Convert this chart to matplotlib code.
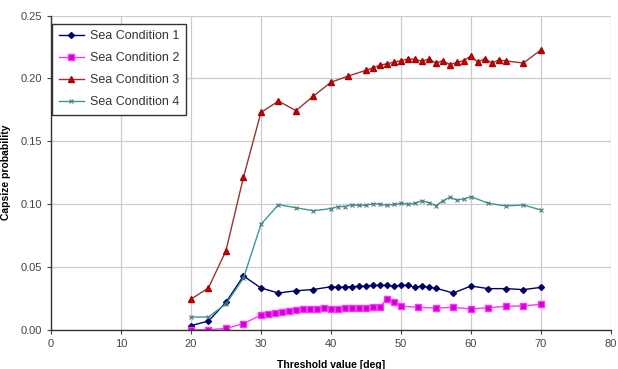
import matplotlib
matplotlib.use("Agg")
import matplotlib.pyplot as plt

# Sea Condition 1
x1 = [20, 22.5, 25, 27.5, 30, 32.5, 35, 37.5, 40, 41, 42, 43, 44, 45, 46, 47, 48, 49,
      50, 51, 52, 53, 54, 55, 57.5, 60, 62.5, 65, 67.5, 70]
y1 = [0.0032, 0.0069, 0.0218, 0.0428, 0.0332, 0.0292, 0.0310, 0.0320, 0.0342, 0.0337,
      0.0340, 0.0342, 0.0345, 0.0348, 0.0353, 0.0353, 0.0353, 0.0348, 0.0353, 0.0353,
      0.0337, 0.0348, 0.0337, 0.0330, 0.0292, 0.0348, 0.0327, 0.0327, 0.0319, 0.0337]

# Sea Condition 2
x2 = [20, 22.5, 25, 27.5, 30, 31, 32, 33, 34, 35, 36, 37, 38, 39, 40, 41, 42, 43, 44,
      45, 46, 47, 48, 49, 50, 52.5, 55, 57.5, 60, 62.5, 65, 67.5, 70]
y2 = [0.0, 0.0, 0.0010, 0.0048, 0.0117, 0.0128, 0.0133, 0.0138, 0.0149, 0.0157, 0.0162,
      0.0165, 0.0168, 0.0170, 0.0168, 0.0165, 0.0170, 0.0173, 0.0173, 0.0173, 0.0178,
      0.0183, 0.0247, 0.0220, 0.0189, 0.0178, 0.0173, 0.0178, 0.0165, 0.0175, 0.0186,
      0.0190, 0.0202]

# Sea Condition 3
x3 = [20, 22.5, 25, 27.5, 30, 32.5, 35, 37.5, 40, 42.5, 45, 46, 47, 48, 49, 50, 51, 52,
      53, 54, 55, 56, 57, 58, 59, 60, 61, 62, 63, 64, 65, 67.5, 70]
y3 = [0.0244, 0.0332, 0.0629, 0.1213, 0.1730, 0.1820, 0.1744, 0.1860, 0.1970, 0.2020,
      0.2065, 0.2084, 0.2105, 0.2118, 0.2129, 0.2142, 0.2155, 0.2153, 0.2137, 0.2155,
      0.2123, 0.2142, 0.2110, 0.2129, 0.2142, 0.2180, 0.2129, 0.2158, 0.2123, 0.2147,
      0.2140, 0.2123, 0.2227]

# Sea Condition 4
x4 = [20, 22.5, 25, 27.5, 30, 32.5, 35, 37.5, 40, 41, 42, 43, 44, 45, 46, 47, 48, 49,
      50, 51, 52, 53, 54, 55, 56, 57, 58, 59, 60, 62.5, 65, 67.5, 70]
y4 = [0.0101, 0.0101, 0.0205, 0.0410, 0.0839, 0.0995, 0.0971, 0.0947, 0.0964, 0.0980,
      0.0980, 0.0995, 0.0990, 0.0990, 0.1003, 0.1000, 0.0990, 0.0998, 0.1006, 0.1000,
      0.1006, 0.1027, 0.1011, 0.0987, 0.1027, 0.1054, 0.1032, 0.1040, 0.1059, 0.1006,
      0.0985, 0.0993, 0.0953]

labels = ["Sea Condition 1", "Sea Condition 2", "Sea Condition 3", "Sea Condition 4"]

plt.rcParams["font.family"] = ["Liberation Sans", "DejaVu Sans"]

fig = plt.figure(figsize=(6.18, 3.69), dpi=100)
# right edge pulled in a little so the "80" label is not cut
ax = fig.add_axes([0.0825, 0.1065, 0.906, 0.851])

ax.plot(x1, y1, "-D", color="#000066", mfc="#000066", mec="#000066", ms=3.0, lw=1.0, label=labels[0])
ax.plot(x2, y2, "-s", color="#ff33ff", mfc="#cc00cc", mec="#ff33ff", ms=3.8, lw=1.0, label=labels[1])
ax.plot(x3, y3, "-^", color="#993333", mfc="#cc0000", mec="#aa0000", ms=4.0, lw=1.0, label=labels[2])
ax.plot(x4, y4, "-x", color="#339999", mec="#557777", ms=3.0, mew=0.8, lw=1.0, label=labels[3])

ax.set_xlim(0, 80)
ax.set_ylim(0, 0.25)
ax.set_xticks(range(0, 81, 10))
ax.set_yticks([0, 0.05, 0.10, 0.15, 0.20, 0.25])
ax.set_yticklabels(["0.00", "0.05", "0.10", "0.15", "0.20", "0.25"])
ax.grid(True, color="#cccccc", linewidth=0.9)
ax.set_axisbelow(True)
for s in ["top", "right"]:
    ax.spines[s].set_visible(False)
for s in ["left", "bottom"]:
    ax.spines[s].set_color("#333333")
    ax.spines[s].set_linewidth(1.0)
ax.tick_params(labelsize=8, colors="#444444", length=3, width=0.8)

ax.set_ylabel("Capsize probability", fontsize=7.5, fontweight="bold", labelpad=7)
ax.set_xlabel("Threshold value [deg]", fontsize=7.5, fontweight="bold", labelpad=8)

leg = ax.legend(loc="upper left", bbox_to_anchor=(0.002, 0.975), borderaxespad=0,
                fontsize=9, fancybox=False, framealpha=1, edgecolor="#333333",
                handlelength=2.0, borderpad=0.55, labelspacing=0.8, handletextpad=0.5)
leg.get_frame().set_linewidth(1.0)
for t in leg.get_texts():
    t.set_color("#333333")

fig.savefig("out.png", dpi=100)
